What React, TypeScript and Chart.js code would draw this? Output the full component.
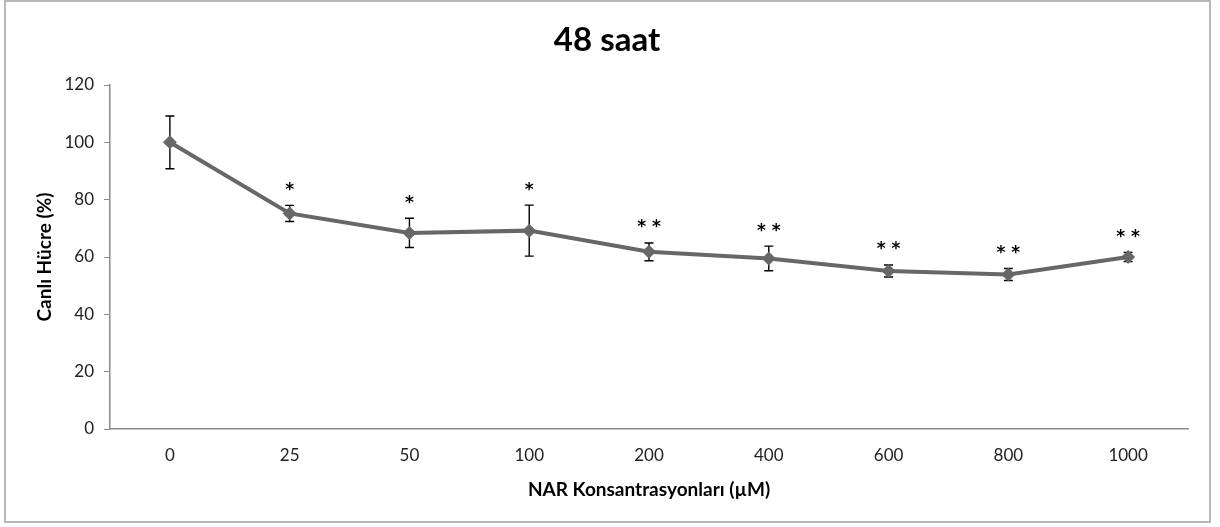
import React, { useEffect, useRef } from "react";
import { Chart, registerables } from "chart.js";

Chart.register(...registerables);

const categories = ["0", "25", "50", "100", "200", "400", "600", "800", "1000"];
const viability = [100, 75.2, 68.4, 69.2, 61.8, 59.5, 55.1, 53.9, 60.0];
const errors = [9.2, 2.8, 5.1, 8.9, 3.1, 4.3, 2.1, 2.1, 1.6];
const significance = ["", "*", "*", "*", "* *", "* *", "* *", "* *", "* *"];
const yTicks = [0, 20, 40, 60, 80, 100, 120];

const titleText = "48 saat";
const xTitleText = "NAR Konsantrasyonları (µM)";
const yTitleText = "Canlı Hücre (%)";

const FONT = "Lato, 'Open Sans', sans-serif";

const errorBarPlugin = {
  id: "errorBars",
  beforeDatasetsDraw(chart: any) {
    const ctx = chart.ctx;
    const x = chart.scales.x;
    const y = chart.scales.y;
    ctx.save();
    ctx.strokeStyle = "#000";
    ctx.lineWidth = 1.4;
    viability.forEach((v, i) => {
      const px = x.getPixelForValue(i);
      const top = y.getPixelForValue(v + errors[i]);
      const bot = y.getPixelForValue(v - errors[i]);
      ctx.beginPath();
      ctx.moveTo(px, top);
      ctx.lineTo(px, bot);
      ctx.moveTo(px - 4.5, top);
      ctx.lineTo(px + 4.5, top);
      ctx.moveTo(px - 4.5, bot);
      ctx.lineTo(px + 4.5, bot);
      ctx.stroke();
    });
    ctx.restore();
  },
};

const overlayPlugin = {
  id: "overlay",
  afterDatasetsDraw(chart: any) {
    const ctx = chart.ctx;
    const x = chart.scales.x;
    const y = chart.scales.y;
    ctx.save();
    ctx.fillStyle = "#000";
    ctx.font = `bold 17px 'DejaVu Sans', sans-serif`;
    ctx.textAlign = "center";
    ctx.textBaseline = "middle";
    viability.forEach((v, i) => {
      if (!significance[i]) return;
      const px = x.getPixelForValue(i);
      const top = y.getPixelForValue(v + errors[i]);
      ctx.fillText(significance[i], px, top - 15);
    });
    ctx.font = `bold 33px ${FONT}`;
    ctx.fillText(titleText, 607, 40);
    ctx.font = `bold 19px ${FONT}`;
    const ca = chart.chartArea;
    ctx.fillText(xTitleText, (ca.left + ca.right) / 2, 490);
    ctx.translate(45, (ca.top + ca.bottom) / 2);
    ctx.rotate(-Math.PI / 2);
    ctx.fillText(yTitleText, 0, 0);
    ctx.restore();
  },
};

export default function App() {
  const ref = useRef<HTMLCanvasElement>(null);
  useEffect(() => {
    if (!ref.current) return;
    const chart = new Chart(ref.current, {
      type: "line",
      data: {
        labels: categories,
        datasets: [
          {
            data: viability,
            borderColor: "#676767",
            backgroundColor: "#676767",
            borderWidth: 4,
            pointStyle: "rectRot",
            pointRadius: 7,
            pointBackgroundColor: "#676767",
            pointBorderColor: "#676767",
            pointBorderWidth: 0,
            tension: 0,
          },
        ],
      },
      options: {
        animation: false,
        responsive: false,
        maintainAspectRatio: false,
        layout: { padding: { left: 0, right: 32, top: 85, bottom: 0 } },
        plugins: {
          legend: { display: false },
          title: { display: false },
          tooltip: { enabled: false },
        },
        scales: {
          x: {
            offset: true,
            grid: { display: false, drawTicks: false },
            border: { display: true, color: "#8c8c8c", width: 1.5 },
            ticks: {
              color: "#222",
              font: { family: FONT, size: 17 },
              padding: 16,
              maxRotation: 0,
            },
            afterFit(scale: any) {
              scale.height = 98;
            },
          },
          y: {
            min: 0,
            max: 120,
            afterBuildTicks(scale: any) {
              scale.ticks = yTicks.map((v) => ({ value: v }));
            },
            grid: {
              drawOnChartArea: false,
              drawTicks: true,
              tickLength: 6,
              tickColor: "#8c8c8c",
            },
            border: { display: true, color: "#8c8c8c", width: 1.5 },
            ticks: {
              color: "#222",
              font: { family: FONT, size: 17 },
              padding: 10,
            },
            afterFit(scale: any) {
              scale.width = 110;
            },
          },
        },
      },
      plugins: [errorBarPlugin, overlayPlugin],
    });
    return () => chart.destroy();
  }, []);
  return (
    <div style={{ position: "fixed", left: 0, top: 0, width: 1220, height: 527, background: "#fff" }}>
      <div
        style={{
          position: "absolute",
          left: 4,
          top: 0,
          width: 1207,
          height: 523,
          border: "2px solid #b8b8b8",
          boxSizing: "border-box",
        }}
      />
      <canvas ref={ref} width={1220} height={527} style={{ position: "absolute", left: 0, top: 0 }} />
    </div>
  );
}
